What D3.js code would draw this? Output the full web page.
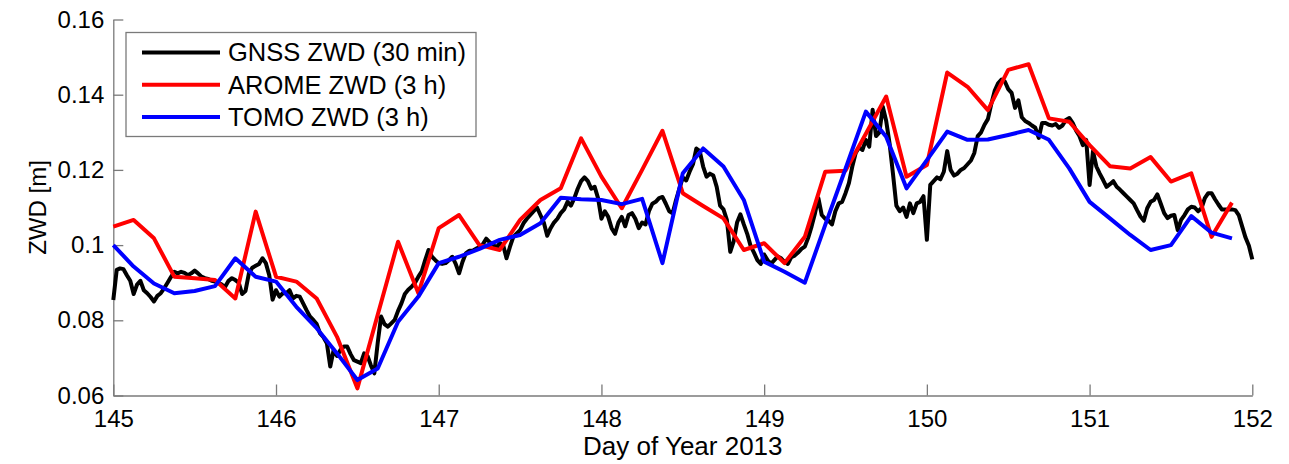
<!DOCTYPE html>
<html>
<head>
<meta charset="utf-8">
<script src="https://cdn.jsdelivr.net/npm/d3@7"></script>
<style>
  html, body { margin: 0; padding: 0; background: #fff; }
  svg { display: block; font-family: "Liberation Sans", Arial, sans-serif; }
</style>
</head>
<body>
<svg id="chart" width="1289" height="464"></svg>
<script>
// GNSS zenith wet delay, 30-minute samples starting at day 145.0
const gnssStart = 145;
const gnssStepDays = 1 / 48;
const gnssZwd = [
  0.0854, 0.0934, 0.0938, 0.0936, 0.0920, 0.0905, 0.0870, 0.0895, 0.0905, 0.0880,
  0.0872, 0.0862, 0.0850, 0.0865, 0.0872, 0.0885, 0.0900, 0.0915, 0.0929, 0.0925,
  0.0929, 0.0926, 0.0920, 0.0925, 0.0932, 0.0925, 0.0916, 0.0912, 0.0910, 0.0905,
  0.0903, 0.0900, 0.0895, 0.0889, 0.0905, 0.0912, 0.0907, 0.0900, 0.0870, 0.0878,
  0.0925, 0.0940, 0.0945, 0.0950, 0.0965, 0.0952, 0.0920, 0.0855, 0.0880, 0.0863,
  0.0872, 0.0872, 0.0880, 0.0858, 0.0865, 0.0863, 0.0845, 0.0827, 0.0810, 0.0801,
  0.0790, 0.0765, 0.0755, 0.0739, 0.0677, 0.0721, 0.0705, 0.0721, 0.0730, 0.0730,
  0.0710, 0.0694, 0.0690, 0.0686, 0.0712, 0.0705, 0.0680, 0.0659, 0.0740, 0.0810,
  0.0790, 0.0783, 0.0792, 0.0801, 0.0825, 0.0845, 0.0870, 0.0881, 0.0889, 0.0900,
  0.0916, 0.0930, 0.0960, 0.0987, 0.0969, 0.0960, 0.0952, 0.0950, 0.0952, 0.0960,
  0.0969, 0.0950, 0.0925, 0.0955, 0.0978, 0.0985, 0.0985, 0.0990, 0.0995, 0.1002,
  0.1017, 0.1008, 0.1002, 0.0993, 0.1005, 0.1000, 0.0965, 0.0995, 0.1022, 0.1031,
  0.1040, 0.1058, 0.1070, 0.1080, 0.1090, 0.1100, 0.1080, 0.1060, 0.1025, 0.1045,
  0.1060, 0.1070, 0.1085, 0.1095, 0.1115, 0.1105, 0.1125, 0.1150, 0.1170, 0.1180,
  0.1170, 0.1150, 0.1155, 0.1125, 0.1070, 0.1090, 0.1075, 0.1045, 0.1030, 0.1060,
  0.1075, 0.1050, 0.1080, 0.1085, 0.1070, 0.1045, 0.1060, 0.1055, 0.1090, 0.1110,
  0.1115, 0.1125, 0.1128, 0.1110, 0.1090, 0.1085, 0.1120, 0.1150, 0.1180, 0.1172,
  0.1195, 0.1215, 0.1257, 0.1250, 0.1209, 0.1182, 0.1190, 0.1185, 0.1155, 0.1105,
  0.1095, 0.1067, 0.0982, 0.1010, 0.1060, 0.1082, 0.1055, 0.1030, 0.0998, 0.0980,
  0.0960, 0.0950, 0.0975, 0.0960, 0.0950, 0.0960, 0.0970, 0.0965, 0.0955, 0.0950,
  0.0968, 0.0972, 0.0980, 0.0990, 0.0996, 0.1020, 0.1050, 0.1085, 0.1125, 0.1080,
  0.1070, 0.1065, 0.1055, 0.1090, 0.1111, 0.1115, 0.1138, 0.1165, 0.1209, 0.1245,
  0.1260, 0.1253, 0.1280, 0.1262, 0.1360, 0.1290, 0.1300, 0.1368, 0.1330, 0.1270,
  0.1190, 0.1105, 0.1090, 0.1100, 0.1075, 0.1111, 0.1085, 0.1111, 0.1115, 0.1130,
  0.1014, 0.1160, 0.1170, 0.1180, 0.1175, 0.1195, 0.1250, 0.1200, 0.1185, 0.1190,
  0.1200, 0.1205, 0.1215, 0.1225, 0.1245, 0.1290, 0.1300, 0.1320, 0.1335, 0.1375,
  0.1410, 0.1430, 0.1440, 0.1435, 0.1415, 0.1405, 0.1365, 0.1385, 0.1340, 0.1330,
  0.1325, 0.1318, 0.1312, 0.1285, 0.1325, 0.1325, 0.1320, 0.1318, 0.1322, 0.1312,
  0.1318, 0.1333, 0.1338, 0.1325, 0.1305, 0.1290, 0.1266, 0.1280, 0.1160, 0.1250,
  0.1209, 0.1190, 0.1173, 0.1155, 0.1162, 0.1170, 0.1155, 0.1147, 0.1138, 0.1129,
  0.1120, 0.1111, 0.1093, 0.1076, 0.1065, 0.1098, 0.1115, 0.1120, 0.1135, 0.1110,
  0.1085, 0.1072, 0.1078, 0.1080, 0.1040, 0.1067, 0.1080, 0.1095, 0.1102, 0.1100,
  0.1090, 0.1098, 0.1125, 0.1138, 0.1138, 0.1122, 0.1108, 0.1095, 0.1095, 0.1095,
  0.1095, 0.1093, 0.1080, 0.1050, 0.1020, 0.0998, 0.0962
];

// Model values every 3 hours starting at day 145.0
const modelStart = 145;
const modelStepDays = 1 / 8;
const aromeZwd = [
  0.1049, 0.1067, 0.1018, 0.0916, 0.0912, 0.0907, 0.0858, 0.1089,
  0.0916, 0.0903, 0.0858, 0.0756, 0.0619, 0.0815, 0.1009, 0.0872,
  0.1045, 0.1080, 0.1000, 0.0987, 0.1067, 0.1120, 0.1151, 0.1284,
  0.1182, 0.1098, 0.1200, 0.1304, 0.1138, 0.1104, 0.1071, 0.0987,
  0.1005, 0.0952, 0.1022, 0.1195, 0.1198, 0.1296, 0.1395, 0.1182,
  0.1213, 0.1459, 0.1421, 0.1359, 0.1466, 0.1481, 0.1337, 0.1328,
  0.1266, 0.1210, 0.1204, 0.1234, 0.1169, 0.1191, 0.1022, 0.1113
];
const tomoZwd = [
  0.1000, 0.0943, 0.0898, 0.0872, 0.0878, 0.0891, 0.0965, 0.0916,
  0.0903, 0.0836, 0.0779, 0.0712, 0.0641, 0.0672, 0.0796, 0.0863,
  0.0952, 0.0969, 0.0990, 0.1014, 0.1027, 0.1058, 0.1126, 0.1122,
  0.1120, 0.1109, 0.1123, 0.0952, 0.1191, 0.1257, 0.1209, 0.1120,
  0.0956, 0.0929, 0.0900, 0.1053, 0.1203, 0.1355, 0.1288, 0.1151,
  0.1226, 0.1302, 0.1280, 0.1281, 0.1293, 0.1306, 0.1280, 0.1204,
  0.1115, 0.1071, 0.1027, 0.0987, 0.1000, 0.1077, 0.1033, 0.1018
];

const xTicks = [145, 146, 147, 148, 149, 150, 151, 152];
const yTicks = [0.06, 0.08, 0.10, 0.12, 0.14, 0.16];
const yTickLabels = ["0.06", "0.08", "0.1", "0.12", "0.14", "0.16"];

const seriesNames = ["GNSS ZWD (30 min)", "AROME ZWD (3 h)", "TOMO ZWD (3 h)"];
const seriesColors = ["#000000", "#ff0000", "#0000ff"];

const svg = d3.select("#chart");
const plot = { left: 113.3, right: 1252.3, top: 19.5, bottom: 395.5 };

const x = d3.scaleLinear().domain([145, 152]).range([plot.left, plot.right]);
const y = d3.scaleLinear().domain([0.06, 0.16]).range([plot.bottom, plot.top]);

const axisColor = "#7a7a7a";

// Axes with inward ticks (left and bottom only)
const xAxis = d3.axisBottom(x).tickValues(xTicks).tickFormat(d3.format("d"))
  .tickSize(-11).tickSizeOuter(0).tickPadding(14);
const yAxis = d3.axisLeft(y).tickValues(yTicks)
  .tickFormat((d, i) => yTickLabels[i])
  .tickSize(-10).tickSizeOuter(0).tickPadding(9);

const gx = svg.append("g").attr("transform", `translate(0,${plot.bottom})`).call(xAxis);
const gy = svg.append("g").attr("transform", `translate(${plot.left},0)`).call(yAxis);
[gx, gy].forEach(g => {
  g.select(".domain").attr("stroke", axisColor).attr("stroke-width", 1.3);
  g.selectAll(".tick line").attr("stroke", axisColor).attr("stroke-width", 1.3);
  g.selectAll(".tick text").attr("fill", "#000").style("font-size", "24px")
    .style("font-family", "'Liberation Sans', Arial, sans-serif");
});
gx.selectAll(".tick text").attr("dy", "0.71em");

// Axis titles
svg.append("text")
  .attr("x", (plot.left + plot.right) / 2).attr("y", 455)
  .attr("text-anchor", "middle").style("font-size", "26px")
  .text("Day of Year 2013");
svg.append("text")
  .attr("transform", `translate(46,${(plot.top + plot.bottom) / 2}) rotate(-90)`)
  .attr("text-anchor", "middle").style("font-size", "24px")
  .text("ZWD [m]");

// Series
const gnss = gnssZwd.map((v, i) => ({ d: gnssStart + i * gnssStepDays, v }));
const arome = aromeZwd.map((v, i) => ({ d: modelStart + i * modelStepDays, v }));
const tomo = tomoZwd.map((v, i) => ({ d: modelStart + i * modelStepDays, v }));

const line = d3.line().x(p => x(p.d)).y(p => y(p.v));

const lines = svg.append("g").attr("fill", "none")
  .attr("stroke-width", 4).attr("stroke-linejoin", "round").attr("stroke-linecap", "butt");
[gnss, arome, tomo].forEach((data, k) => {
  lines.append("path").datum(data).attr("d", line).attr("stroke", seriesColors[k]);
});

// Legend
const legend = svg.append("g");
legend.append("rect")
  .attr("x", 126).attr("y", 32.5).attr("width", 350).attr("height", 104)
  .attr("fill", "#fff").attr("stroke", axisColor).attr("stroke-width", 1.3);
seriesNames.forEach((name, k) => {
  const cy = 52.5 + k * 32.2;
  legend.append("line").attr("x1", 142).attr("x2", 220).attr("y1", cy).attr("y2", cy)
    .attr("stroke", seriesColors[k]).attr("stroke-width", 4);
  legend.append("text").attr("x", 228).attr("y", cy).attr("dy", "0.35em")
    .style("font-size", "25.5px").text(name);
});
</script>
</body>
</html>
